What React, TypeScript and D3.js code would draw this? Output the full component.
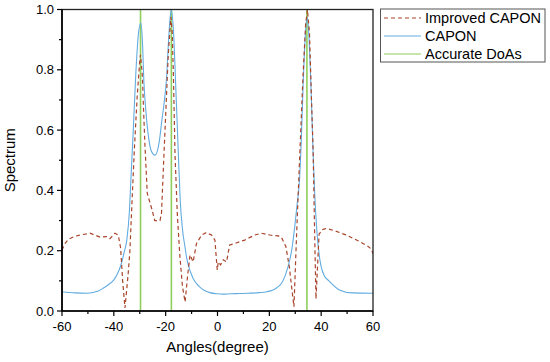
import React from "react";
import * as d3 from "d3";

// CAPON spectrum (angle in degrees, normalized value)
const caponAngles = [
  -60, -55, -50, -46, -44, -42, -40, -38, -37, -36, -35, -34, -33.5, -32.5, -31.5, -30.5, -29.6, -29,
  -28.4, -27.5, -26.5, -25.5, -24.1, -22.5, -21.5, -20.6, -19.6, -19, -18.3, -17.8, -17, -16, -15.1,
  -14.4, -13.5, -12.5, -11.9, -11, -10, -9.4, -8, -6.8, -5, -3, 0, 2, 5, 8.6, 12, 16, 19, 21.4, 23,
  24.7, 26, 26.6, 27.6, 28.6, 29.8, 30.8, 31.6, 32.3, 33, 34, 34.5, 35, 36, 36.9, 37.5, 38.3, 39.5,
  41, 43, 47, 52, 60,
];
const caponValues = [
  0.064, 0.06, 0.059, 0.066, 0.076, 0.088, 0.103, 0.135, 0.16, 0.195, 0.235, 0.33, 0.42, 0.6, 0.79,
  0.92, 0.955, 0.9, 0.76, 0.65, 0.57, 0.53, 0.517, 0.56, 0.63, 0.69, 0.78, 0.88, 0.97, 1.0, 0.93,
  0.72, 0.52, 0.37, 0.27, 0.21, 0.176, 0.145, 0.12, 0.108, 0.09, 0.079, 0.068, 0.061, 0.057, 0.056,
  0.057, 0.058, 0.059, 0.061, 0.064, 0.07, 0.078, 0.092, 0.115, 0.13, 0.16, 0.2, 0.28, 0.36, 0.43,
  0.56, 0.74, 0.93, 0.975, 0.95, 0.76, 0.52, 0.39, 0.27, 0.17, 0.12, 0.1, 0.07, 0.06, 0.059,
];

// Improved CAPON spectrum
const improvedAngles = [
  -60, -59, -57.5, -55, -53, -49.2, -45.3, -42.8, -41.5, -39.6, -38.3, -37.4, -36.6, -35.7, -34.5,
  -33.8, -33, -32, -31, -30, -29.7, -29, -28.5, -28, -27.1, -25.4, -24.2, -22.2, -21.6, -21, -20,
  -19, -18, -17.5, -17, -16.4, -15.5, -14.5, -13.5, -12.5, -11.5, -10.6, -9.4, -8.1, -6.1, -4.4,
  -2.3, -1, -0.1, 0.3, 1.2, 2.2, 3.5, 4.7, 6.7, 8.6, 10.5, 11.8, 14.4, 17, 20.2, 23.4, 24.7, 26.4,
  27.7, 28.6, 29.5, 30.5, 31.8, 33, 34, 34.7, 35.5, 36.2, 36.9, 37.5, 38, 38.6, 39.2, 40.5, 42, 45.2,
  49.7, 54.9, 58, 59.4, 60,
];
const improvedValues = [
  0.202, 0.222, 0.238, 0.248, 0.252, 0.258, 0.245, 0.247, 0.24, 0.258, 0.252, 0.21, 0.1, 0.01, 0.12,
  0.2, 0.36, 0.55, 0.71, 0.83, 0.85, 0.78, 0.66, 0.55, 0.39, 0.34, 0.3, 0.3, 0.325, 0.45, 0.65, 0.85,
  0.975, 0.93, 0.78, 0.52, 0.32, 0.18, 0.08, 0.03, 0.12, 0.186, 0.163, 0.224, 0.252, 0.26, 0.252,
  0.235, 0.136, 0.163, 0.153, 0.17, 0.163, 0.219, 0.224, 0.23, 0.235, 0.241, 0.252, 0.258, 0.252,
  0.249, 0.244, 0.213, 0.147, 0.08, 0.014, 0.25, 0.53, 0.78, 0.95, 1.0, 0.92, 0.72, 0.53, 0.25, 0.04,
  0.15, 0.255, 0.27, 0.274, 0.266, 0.252, 0.23, 0.215, 0.205, 0.19,
];

// True directions of arrival
const accurateDoAs = [-29.7, -17.8, 34.5];

const xMajor = [-60, -40, -20, 0, 20, 40, 60];
const xMinor = [-50, -30, -10, 10, 30, 50];
const yMajor = [0, 0.2, 0.4, 0.6, 0.8, 1.0];
const yMinor = [0.1, 0.3, 0.5, 0.7, 0.9];

const legendItems = [
  { label: "Improved CAPON", color: "#a8452b", dash: "4,3" },
  { label: "CAPON", color: "#62ace0", dash: "" },
  { label: "Accurate DoAs", color: "#8fce5c", dash: "" },
];

export default function App() {
  const W = 550;
  const H = 362;
  const m = { left: 62, right: 177, top: 9.5, bottom: 51 };
  const x = d3.scaleLinear().domain([-60, 60]).range([m.left, W - m.right]);
  const y = d3.scaleLinear().domain([0, 1]).range([H - m.bottom, m.top]);

  const line = d3
    .line<[number, number]>()
    .x((d) => x(d[0]))
    .y((d) => y(d[1]));

  const caponPath = line.curve(d3.curveMonotoneX)(
    caponAngles.map((a, i) => [a, caponValues[i]] as [number, number])
  );
  const improvedPath = d3
    .line<[number, number]>()
    .x((d) => x(d[0]))
    .y((d) => y(d[1]))(improvedAngles.map((a, i) => [a, improvedValues[i]] as [number, number]));

  const font = "Arial, 'Liberation Sans', sans-serif";
  const x0 = m.left;
  const x1 = W - m.right;
  const y0 = H - m.bottom;
  const y1 = m.top;

  return (
    <svg
      width={W}
      height={H}
      style={{ position: "absolute", left: 0, top: 0, background: "#fff" }}
      fontFamily={font}
    >
      <defs>
        <clipPath id="plot">
          <rect x={x0} y={y1} width={x1 - x0} height={y0 - y1} />
        </clipPath>
      </defs>

      <g clipPath="url(#plot)">
        {accurateDoAs.map((a) => (
          <line key={a} x1={x(a)} x2={x(a)} y1={y0} y2={y1} stroke="#8fce5c" strokeWidth={1.6} />
        ))}
        <path d={caponPath ?? ""} fill="none" stroke="#62ace0" strokeWidth={1.1} />
        <path d={improvedPath ?? ""} fill="none" stroke="#a8452b" strokeWidth={1.2} strokeDasharray="4,3" />
      </g>

      {/* frame */}
      <rect x={x0} y={y1} width={x1 - x0} height={y0 - y1} fill="none" stroke="#222" strokeWidth={1.3} />
      <line x1={x0} x2={x0} y1={y1} y2={y0} stroke="#000" strokeWidth={1.6} />
      <line x1={x0} x2={x1} y1={y0} y2={y0} stroke="#000" strokeWidth={1.6} />

      {/* x ticks */}
      {xMajor.map((t) => (
        <g key={t}>
          <line x1={x(t)} x2={x(t)} y1={y0} y2={y0 + 5} stroke="#000" strokeWidth={1.2} />
          <text x={x(t)} y={y0 + 20} textAnchor="middle" fontSize={13} fill="#000">
            {t < 0 ? `-${-t}` : t}
          </text>
        </g>
      ))}
      {xMinor.map((t) => (
        <line key={t} x1={x(t)} x2={x(t)} y1={y0} y2={y0 + 3} stroke="#000" strokeWidth={1.2} />
      ))}

      {/* y ticks */}
      {yMajor.map((t) => (
        <g key={t}>
          <line x1={x0 - 5} x2={x0} y1={y(t)} y2={y(t)} stroke="#000" strokeWidth={1.2} />
          <text x={x0 - 8} y={y(t) + 4.5} textAnchor="end" fontSize={13} fill="#000">
            {t.toFixed(1)}
          </text>
        </g>
      ))}
      {yMinor.map((t) => (
        <line key={t} x1={x0 - 3} x2={x0} y1={y(t)} y2={y(t)} stroke="#000" strokeWidth={1.2} />
      ))}

      {/* axis titles */}
      <text x={(x0 + x1) / 2} y={352} textAnchor="middle" fontSize={15} fill="#000">
        Angles(degree)
      </text>
      <text
        transform={`translate(15,${(y0 + y1) / 2}) rotate(-90)`}
        textAnchor="middle"
        fontSize={15}
        fill="#000"
      >
        Spectrum
      </text>

      {/* legend */}
      <rect x={380.5} y={9} width={164.5} height={53} fill="#fff" stroke="#555" strokeWidth={1} />
      {legendItems.map((it, i) => (
        <g key={it.label}>
          <line
            x1={384}
            x2={421}
            y1={18 + i * 18}
            y2={18 + i * 18}
            stroke={it.color}
            strokeWidth={1.2}
            strokeDasharray={it.dash || undefined}
          />
          <text x={425} y={23 + i * 18} fontSize={14.5} fill="#000">
            {it.label}
          </text>
        </g>
      ))}
    </svg>
  );
}
